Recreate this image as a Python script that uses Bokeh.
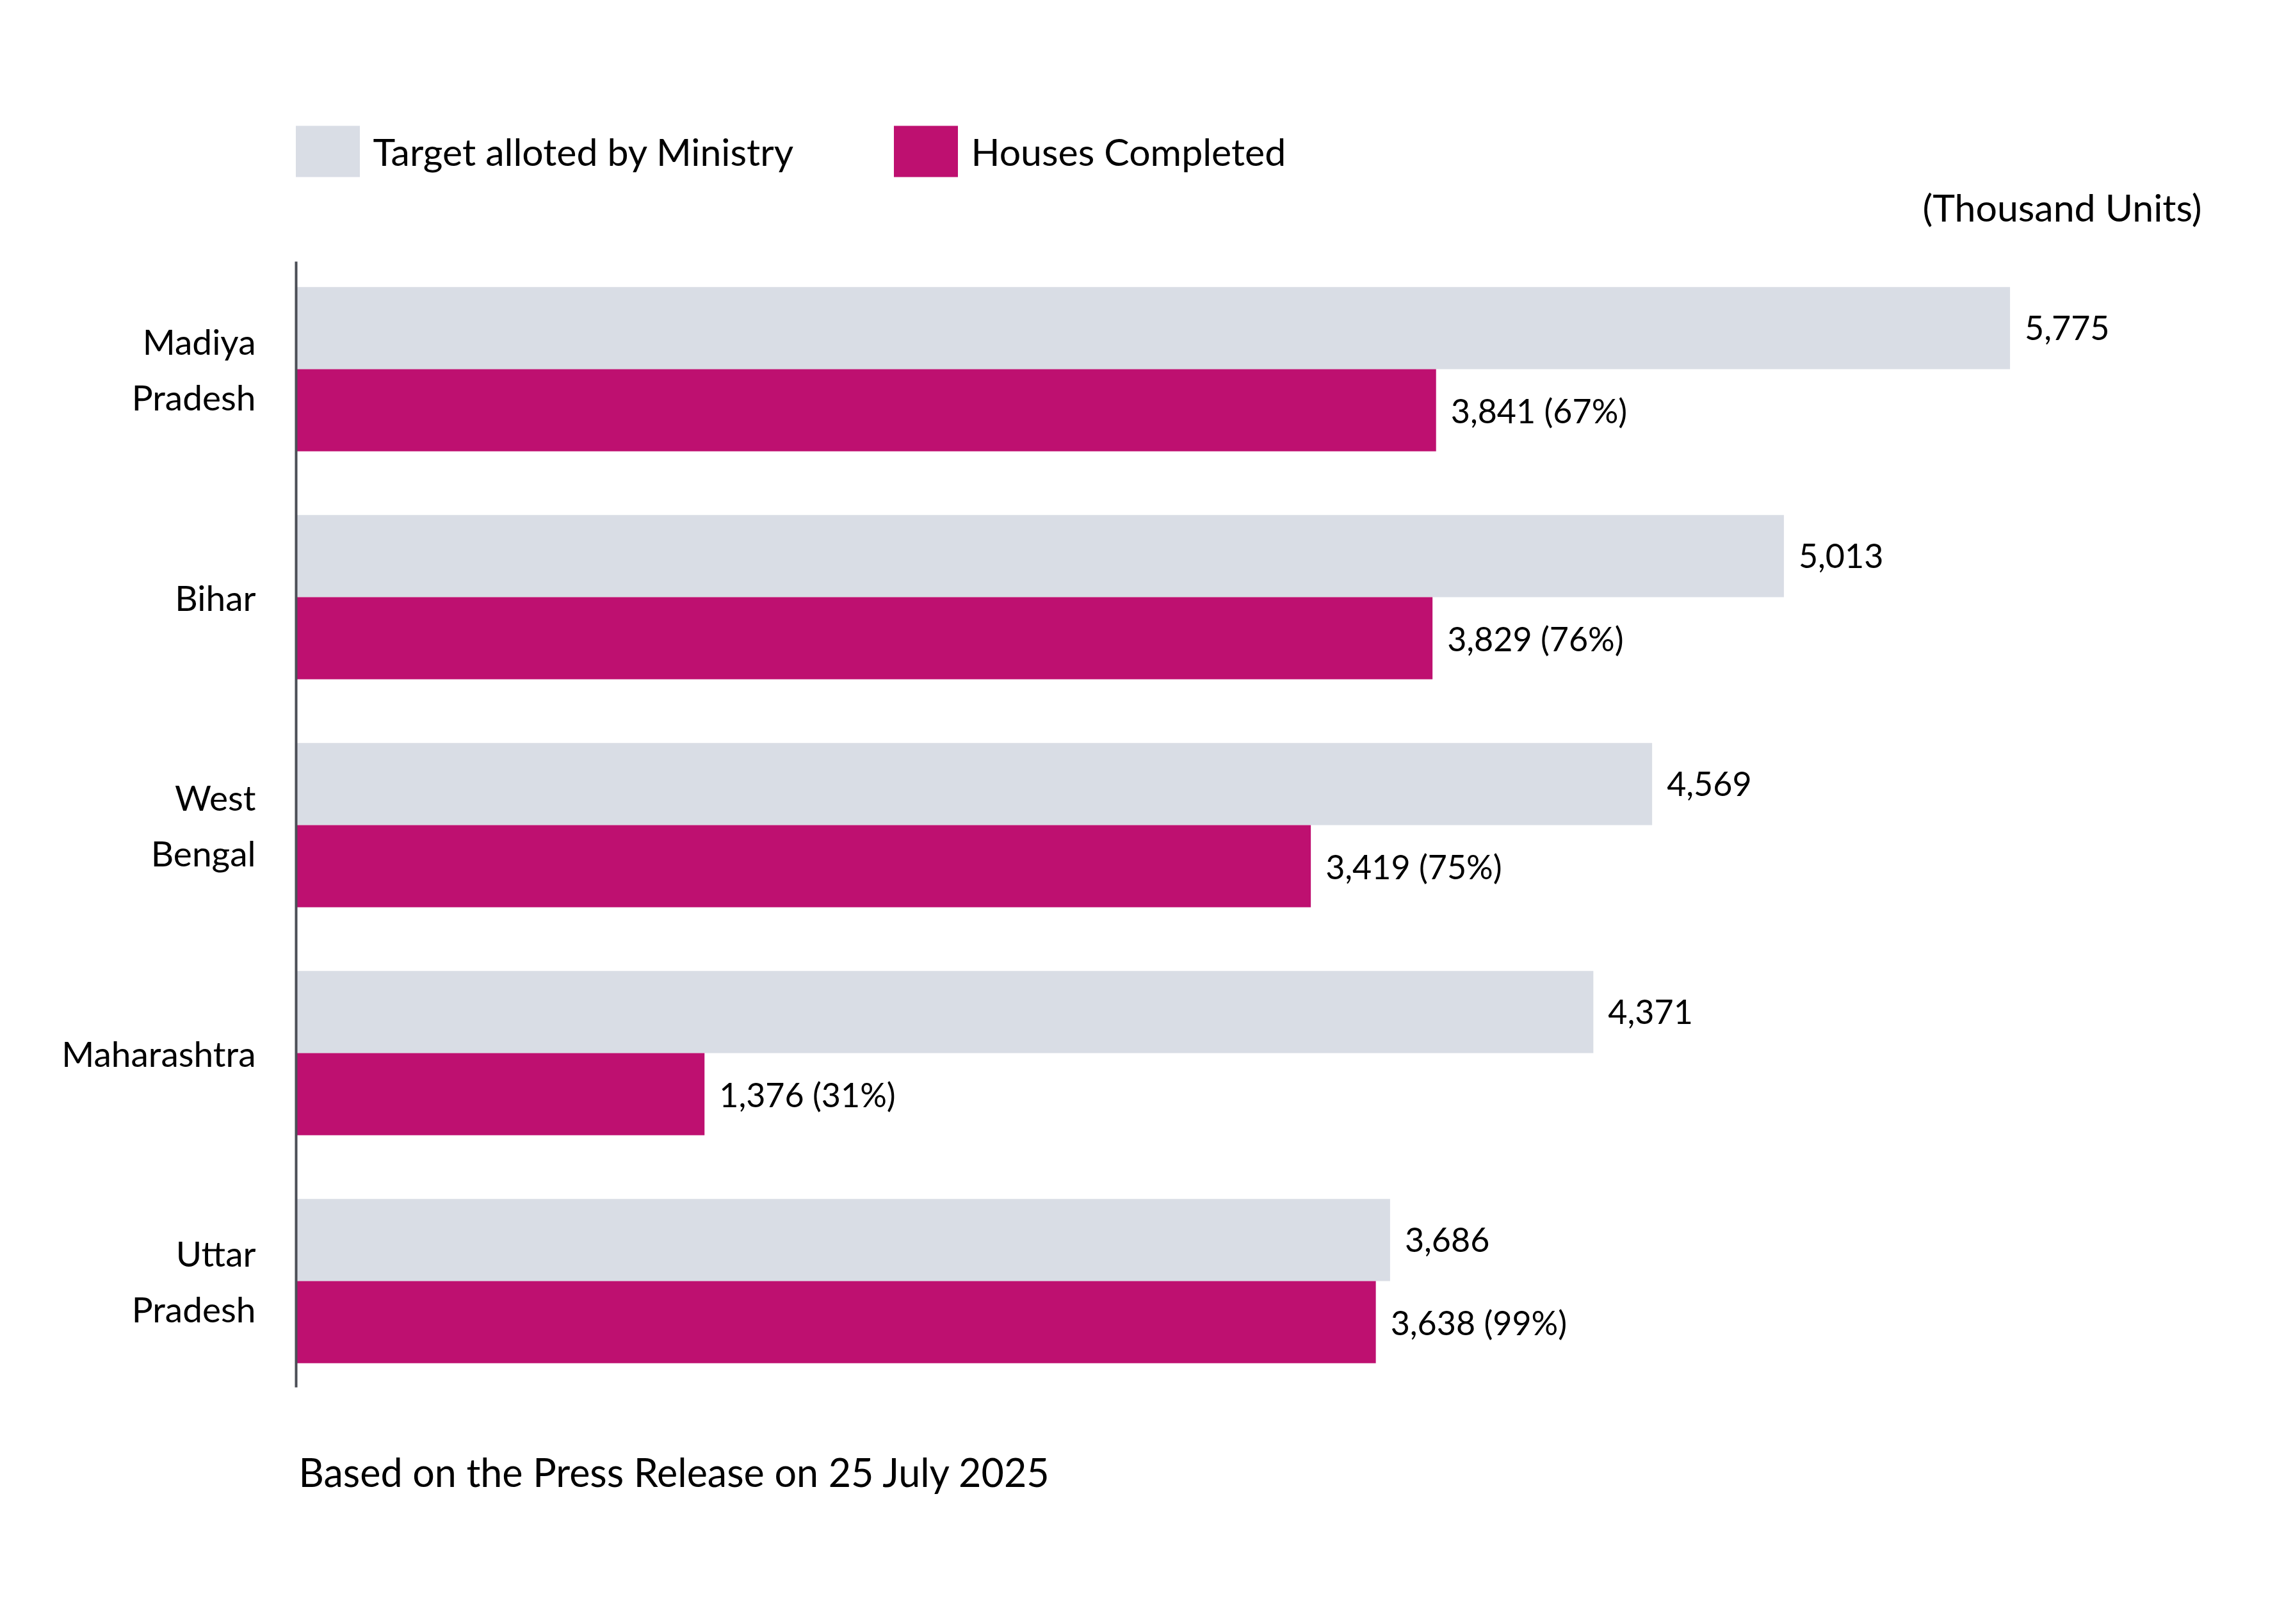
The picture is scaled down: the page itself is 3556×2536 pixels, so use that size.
from bokeh.plotting import figure
from bokeh.models import (ColumnDataSource, LabelSet, Label, Legend, LegendItem,
                          Range1d, FixedTicker)
from bokeh.embed import file_html
from bokeh.resources import INLINE
from bokeh.core.properties import value

# ---- data ----
states = ["Madiya\nPradesh", "Bihar", "West\nBengal", "Maharashtra", "Uttar\nPradesh"]
target = [5775, 5013, 4569, 4371, 3686]
completed = [3841, 3829, 3419, 1376, 3638]
completed_pct = ["67%", "76%", "75%", "31%", "99%"]

series_names = ["Target alloted by Ministry", "Houses Completed"]
unit_note = "(Thousand Units)"
source_note = "Based on the Press Release on 25 July 2025"

# ---- style ----
FONT = "Lato"
GREY = "#D9DDE5"
MAGENTA = "#BE1070"
AXIS = "#4B4E56"
BAR_H = 0.36

idx = list(range(len(states)))
src = ColumnDataSource(dict(
    y_t=[i - BAR_H / 2 for i in idx],
    y_c=[i + BAR_H / 2 for i in idx],
    target=target,
    completed=completed,
    t_lab=[f"{v:,}" for v in target],
    c_lab=[f"{v:,} ({p})" for v, p in zip(completed, completed_pct)],
))

# the plot area covers the full height; the axis line is limited with bounds
p = figure(width=3548, height=2528, output_backend="svg", toolbar_location=None,
           title=None, x_axis_location=None,
           x_range=Range1d(0, 6421), y_range=Range1d(5.4831, -1.6180),
           min_border_left=462, min_border_right=110,
           min_border_top=0, min_border_bottom=0)
p.outline_line_color = None
p.background_fill_color = "white"
p.border_fill_color = "white"
p.xgrid.visible = False
p.ygrid.visible = False

# y axis: state names as multi-line tick labels
p.yaxis.bounds = (-0.4719, 4.4663)
p.yaxis.ticker = FixedTicker(ticks=idx)
p.yaxis.major_label_overrides = {i: s for i, s in zip(idx, states)}
p.yaxis.axis_line_color = AXIS
p.yaxis.axis_line_width = 4
p.yaxis.major_tick_line_color = None
p.yaxis.major_tick_out = 0
p.yaxis.major_tick_in = 0
p.yaxis.minor_tick_line_color = None
p.yaxis.major_label_standoff = 63
p.yaxis.major_label_text_font = FONT
p.yaxis.major_label_text_font_size = "55px"
p.yaxis.major_label_text_color = "black"
p.yaxis.major_label_text_line_height = 1.31

r1 = p.hbar(y="y_t", left=0, right="target", height=BAR_H, source=src,
            fill_color=GREY, line_color=None)
r2 = p.hbar(y="y_c", left=0, right="completed", height=BAR_H, source=src,
            fill_color=MAGENTA, line_color=None)

p.add_layout(LabelSet(x="target", y="y_t", text="t_lab", source=src, x_offset=23,
                      text_align="left", text_baseline="middle",
                      text_font=value(FONT), text_font_size="52px", text_color="black"))
p.add_layout(LabelSet(x="completed", y="y_c", text="c_lab", source=src, x_offset=23,
                      text_align="left", text_baseline="middle",
                      text_font=value(FONT), text_font_size="52px", text_color="black"))

legend = Legend(items=[LegendItem(label=series_names[0], renderers=[r1]),
                       LegendItem(label=series_names[1], renderers=[r2])],
                orientation="horizontal", location=(-13.5, 2242),
                glyph_width=125, glyph_height=100, label_standoff=9,
                label_width=800, spacing=0, padding=0, margin=0,
                border_line_color=None, background_fill_alpha=0,
                label_text_font=FONT, label_text_font_size="59px",
                label_text_color="black")
p.add_layout(legend)

p.add_layout(Label(x=2976, y=2205, x_units="screen", y_units="screen", text=unit_note,
                   text_align="right", text_baseline="alphabetic",
                   text_font=FONT, text_font_size="59px", text_color="black"))
p.add_layout(Label(x=4, y=230, x_units="screen", y_units="screen", text=source_note,
                   text_align="left", text_baseline="alphabetic",
                   text_font=FONT, text_font_size="61px", text_color="black"))

open("out.html", "w").write(file_html(p, INLINE))
